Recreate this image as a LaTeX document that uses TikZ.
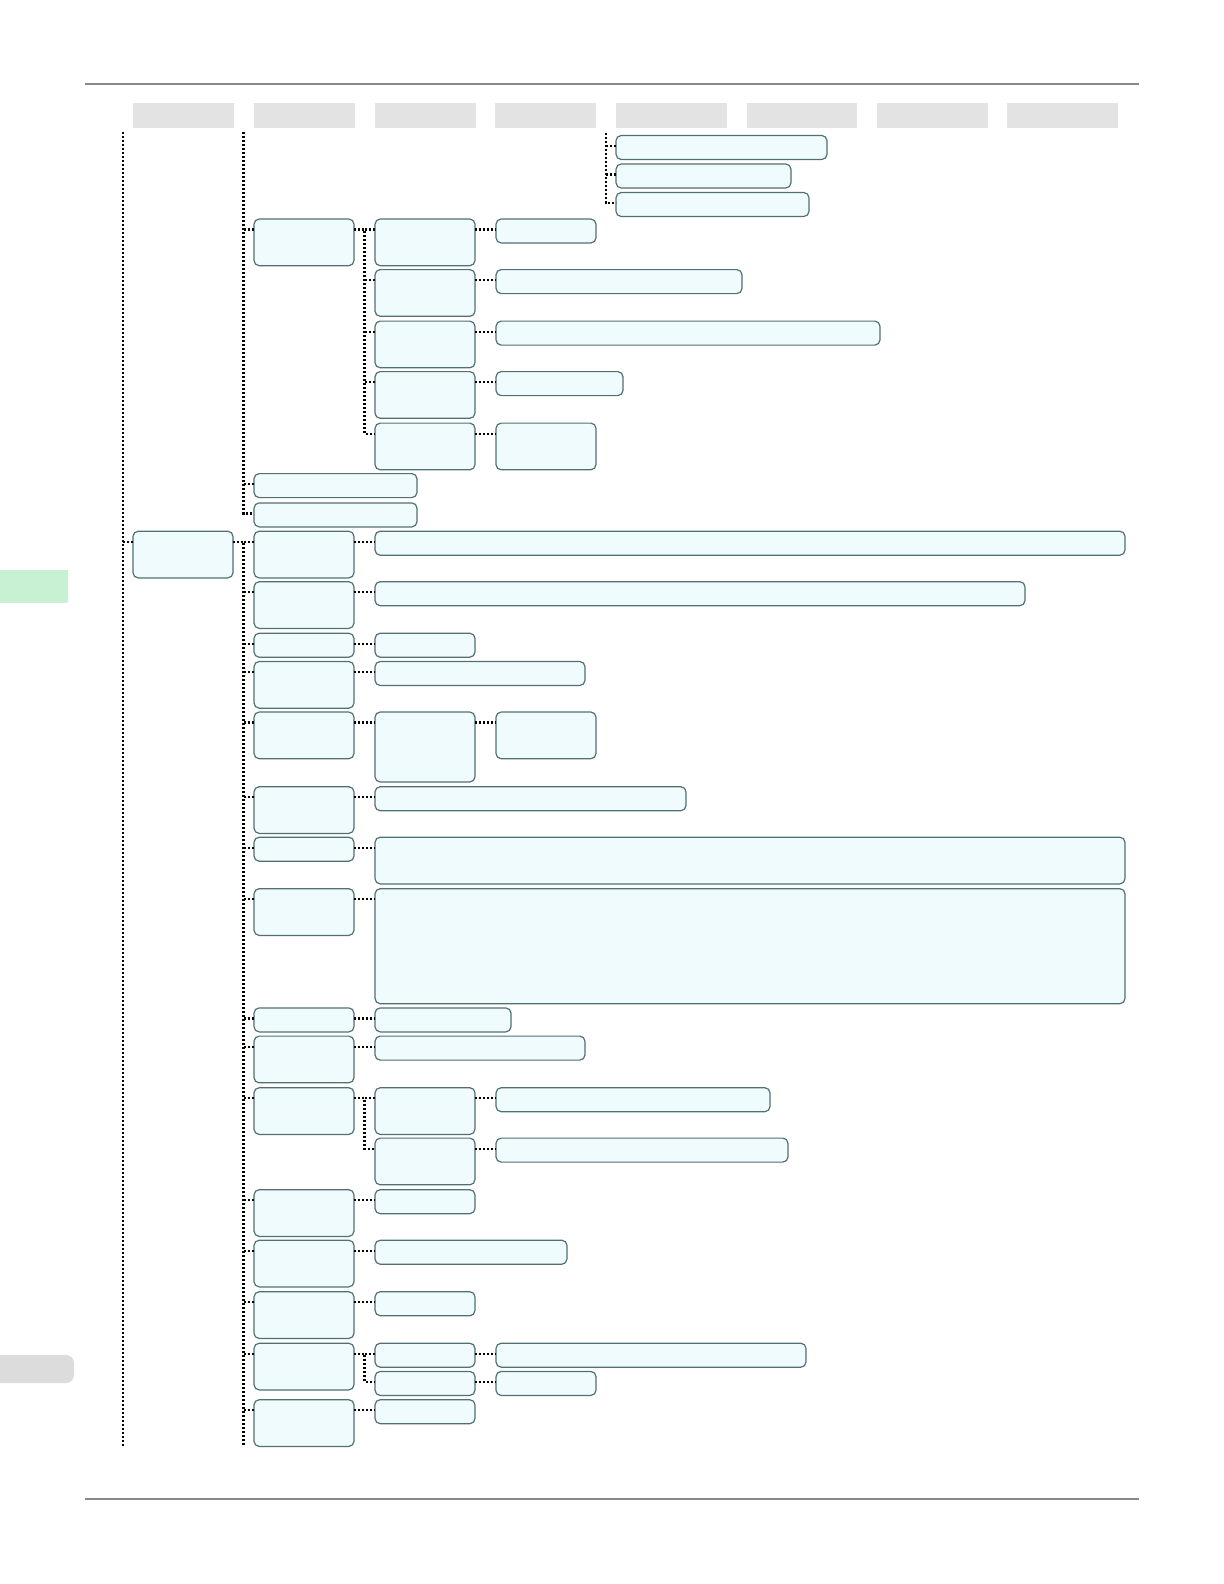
\documentclass[tikz,border=0pt]{standalone}
\usepackage{tikz}
\usetikzlibrary{positioning}
\usepackage{xcolor}
\definecolor{boxfill}{RGB}{240,251,254}
\definecolor{boxline}{RGB}{82,112,114}
\definecolor{headgray}{RGB}{227,227,227}
\definecolor{tabgreen}{RGB}{200,240,210}
\definecolor{tabgray}{RGB}{220,220,220}
\definecolor{rulegray}{RGB}{136,136,136}

\begin{document}
\begin{tikzpicture}[x=0.5pt,y=-0.5pt]
  \tikzset{
    box/.style={draw=boxline,fill=boxfill,line width=0.6pt,rounded corners=2.6pt,
      inner sep=0pt,outer sep=0pt,anchor=north west,minimum width=50pt,minimum height=12pt},
    wd/.style={minimum width=#1*0.5pt},
    ht/.style={minimum height=#1*0.5pt},
    tall/.style={minimum height=23.35pt},
    hdr/.style={fill=headgray,inner sep=0pt,outer sep=0pt,anchor=north west,minimum height=12.5pt},
    dots/.style={line width=1.1pt,dash pattern=on 1.1pt off 0.9pt,black},
    % parent -> bracket -> down to its last child
    link/.style={dots,to path={([yshift=-5.25pt]\tikztostart.north east) -- ++(5.25pt,0)
      |- ([yshift=-5.25pt]\tikztotarget.north west)}},
    rule/.style={draw=rulegray,line width=0.75pt},
  }
  \useasboundingbox (0,0) rectangle (1224,1584);

  % page rules and side tabs
  \draw[rule] (85,84) -- (1139,84);
  \draw[rule] (85,1499) -- (1139,1499);
  \fill[tabgreen] (0,570) rectangle (68,602.5);
  \fill[tabgray,rounded corners=4pt] (-12,1355) rectangle (74,1383);

  % column headers
  \foreach \hx/\hw [count=\i] in {133/101,254/101,375/101,495/101,616/111,747/110,877/111,1007/111}
    \node[hdr,minimum width=\hw*0.5pt] (h\i) at (\hx,103) {};

  % trunks running on from the previous page
  \coordinate (t1top) at (123,132);
  \coordinate (t1bot) at (123,1446);
  \coordinate (t2top) at (243.5,132);
  \coordinate (t5top) at (606,133);

  % continued leaves
  \node[box,wd=211] (f1) at (616,135.5) {};
  \node[box,wd=175] (f2) at (616,164) {};
  \node[box,wd=193] (f3) at (616,192.5) {};
  \draw[dots] (t5top) |- ([yshift=-5.25pt]f3.north west);
  \foreach \f in {f1,f2}
    \draw[dots] ([yshift=-5.25pt]\f.north west) -- ++(-5pt,0);

  % previous group
  \node[box,tall] (p1) at (254,219) {};
  \node[box,tall] (q1) at (375,219) {};
  \node[box,tall] (q2) at (375,269.6) {};
  \node[box,tall] (q3) at (375,321.1) {};
  \node[box,tall] (q4) at (375,371.6) {};
  \node[box,tall] (q5) at (375,423.1) {};
  \node[box] (s1) at (496,219) {};
  \node[box,wd=246] (s2) at (496,269.6) {};
  \node[box,wd=384] (s3) at (496,321.1) {};
  \node[box,wd=127] (s4) at (496,371.6) {};
  \node[box,tall] (s5) at (496,423.1) {};
  \node[box,wd=163] (p2) at (254,473.6) {};
  \node[box,wd=163] (p3) at (254,502.9) {};
  \draw[dots] (t2top) |- ([yshift=-5.25pt]p3.north west);
  \foreach \p in {p1,p2}
    \draw[dots] ([yshift=-5.25pt]\p.north west) -- ++(-5.25pt,0);
  \draw[link] (p1) to (q5);
  \foreach \i in {1,...,4}
    \draw[dots] ([yshift=-5.25pt]q\i.north west) -- ++(-5.25pt,0);
  \foreach \i in {1,...,5}
    \draw[link] (q\i) to (s\i);

  % root of this page
  \node[box,tall] (root) at (133,531.2) {};
  \draw[dots] (t1top) -- (t1bot);
  \draw[dots] ([yshift=-5.25pt]root.north west) -- ++(-5pt,0);
  \coordinate (t2bot) at ([xshift=5.25pt]root.east |- 0,1446);
  \draw[dots] ([yshift=-5.25pt]root.north east) -- ++(5.25pt,0) -- (t2bot);

  \node[box,tall] (a1) at (254,531.2) {};
  \node[box,tall] (a2) at (254,581.7) {};
  \node[box] (a3) at (254,633.2) {};
  \node[box,tall] (a4) at (254,661.5) {};
  \node[box,tall] (a5) at (254,712) {};
  \node[box,tall] (a6) at (254,786.7) {};
  \node[box] (a7) at (254,837.2) {};
  \node[box,tall] (a8) at (254,888.7) {};
  \node[box] (a9) at (254,1007.9) {};
  \node[box,tall] (a10) at (254,1036.1) {};
  \node[box,tall] (a11) at (254,1087.7) {};
  \node[box,tall] (a12) at (254,1189.7) {};
  \node[box,tall] (a13) at (254,1240.2) {};
  \node[box,tall] (a14) at (254,1291.7) {};
  \node[box,tall] (a15) at (254,1343.2) {};
  \node[box,tall] (a16) at (254,1399.7) {};
  \foreach \i in {1,...,16}
    \draw[dots] ([yshift=-5.25pt]a\i.north west) -- ++(-5.25pt,0);

  \node[box,wd=750] (b1) at (375,531.2) {};
  \node[box,wd=650] (b2) at (375,581.7) {};
  \node[box] (b3) at (375,633.2) {};
  \node[box,wd=210] (b4) at (375,661.5) {};
  \node[box,ht=70] (b5) at (375,712) {};
  \node[box,wd=311] (b6) at (375,786.7) {};
  \node[box,wd=750,tall] (b7) at (375,837.2) {};
  \node[box,wd=750,ht=115] (b8) at (375,888.7) {};
  \node[box,wd=136] (b9) at (375,1007.9) {};
  \node[box,wd=210] (b10) at (375,1036.1) {};
  \node[box,tall] (b11) at (375,1087.7) {};
  \node[box,tall] (b12) at (375,1138.1) {};
  \node[box] (b13) at (375,1189.7) {};
  \node[box,wd=192] (b14) at (375,1240.2) {};
  \node[box] (b15) at (375,1291.7) {};
  \node[box] (b16) at (375,1343.2) {};
  \node[box] (b17) at (375,1371.4) {};
  \node[box] (b18) at (375,1399.7) {};
  \foreach \a/\b in {a1/b1,a2/b2,a3/b3,a4/b4,a5/b5,a6/b6,a7/b7,a8/b8,a9/b9,a10/b10,
      a11/b12,a12/b13,a13/b14,a14/b15,a15/b17,a16/b18}
    \draw[link] (\a) to (\b);
  \foreach \b in {b11,b16}
    \draw[dots] ([yshift=-5.25pt]\b.north west) -- ++(-5.25pt,0);

  \node[box,tall] (c5) at (496,712) {};
  \node[box,wd=274] (c11) at (496,1087.7) {};
  \node[box,wd=292] (c12) at (496,1138.1) {};
  \node[box,wd=310] (c16) at (496,1343.2) {};
  \node[box] (c17) at (496,1371.4) {};
  \foreach \b/\c in {b5/c5,b11/c11,b12/c12,b16/c16,b17/c17}
    \draw[link] (\b) to (\c);
\end{tikzpicture}
\end{document}
